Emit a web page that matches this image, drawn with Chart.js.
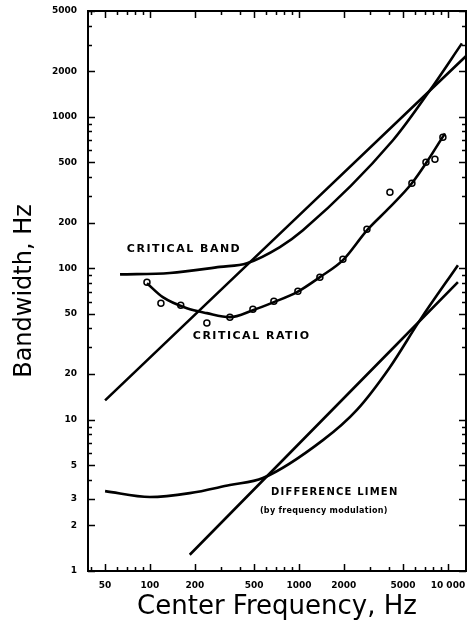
<!DOCTYPE html>
<html>
<head>
<meta charset="utf-8">
<script src="https://cdn.jsdelivr.net/npm/chart.js@4/dist/chart.umd.min.js"></script>
<style>
  body { margin: 0; background: #fff; }
</style>
</head>
<body>
<canvas id="chartBand" width="469" height="623"></canvas>
<script>
// axis ticks
const xTicks = [50, 100, 200, 500, 1000, 2000, 5000, 10000];
const xTickText = ['50', '100', '200', '500', '1000', '2000', '5000', '10 000'];
const yTicks = [1, 2, 3, 5, 10, 20, 50, 100, 200, 500, 1000, 2000, 5000];

// straight line through the critical band region
const upperLineF = [50, 13400];
const upperLineBw = [13.4, 2550];

// critical band
const bandF = [63, 136, 295, 448, 745, 1064, 4276, 7570, 12410];
const bandBw = [91, 93, 102, 108, 138, 178, 700, 1496, 3055];

// critical ratio, fitted curve and measured points
const ratioF = [95.5, 122, 177, 241, 344, 491, 679, 970, 1382, 1973, 2860, 4080, 5730, 7120, 9550];
const ratioBw = [79.6, 64.4, 54.4, 50.5, 47.5, 52.8, 59.7, 69.5, 87.3, 113, 178, 253, 364, 493, 778];
const ratioPtF = [95.5, 118.5, 161, 241, 344, 491, 679, 984, 1382, 1973, 2860, 4080, 5730, 7120, 8180, 9250];
const ratioPtBw = [80.9, 58.7, 57, 43.4, 47.5, 53.6, 60.6, 70.5, 87.3, 114.6, 180.8, 317, 364, 501, 525, 732];

// straight line through the difference limen region
const lowerLineF = [185, 11670];
const lowerLineBw = [1.28, 80.9];

// difference limen
const limenF = [50, 100, 185, 344, 573, 1449, 2450, 4080, 6490, 11670];
const limenBw = [3.37, 3.08, 3.27, 3.7, 4.11, 7.32, 11.6, 22.2, 45.4, 104.7];

function pairs(xs, ys) {
    return xs.map((x, i) => ({ x: x, y: ys[i] }));
}

function lineSet(xs, ys) {
    return {
        type: 'line',
        data: pairs(xs, ys),
        borderColor: '#000',
        borderWidth: 2.6,
        pointRadius: 0,
        fill: false,
        cubicInterpolationMode: 'monotone'
    };
}

const frameTicks = {
    id: 'frameTicks',
    afterDraw(chart) {
        const ctx = chart.ctx;
        const a = chart.chartArea;
        const xs = chart.scales.x, ys = chart.scales.y;
        ctx.save();
        ctx.strokeStyle = '#000';
        ctx.lineWidth = 2;
        ctx.strokeRect(a.left, a.top, a.right - a.left, a.bottom - a.top);
        ctx.lineWidth = 1.5;
        ctx.beginPath();
        for (let e = 1; e <= 4; e++) {
            for (let m = 1; m <= 9; m++) {
                const v = m * Math.pow(10, e);
                if (v < xs.min || v > xs.max) continue;
                const px = Math.round(xs.getPixelForValue(v)) + 0.5;
                const len = xTicks.includes(v) ? 7 : 4;
                ctx.moveTo(px, a.bottom); ctx.lineTo(px, a.bottom - len);
                ctx.moveTo(px, a.top); ctx.lineTo(px, a.top + len);
            }
        }
        for (let e = 0; e <= 3; e++) {
            for (let m = 1; m <= 9; m++) {
                const v = m * Math.pow(10, e);
                if (v < ys.min || v > ys.max) continue;
                const py = Math.round(ys.getPixelForValue(v)) + 0.5;
                const len = yTicks.includes(v) ? 7 : 4;
                ctx.moveTo(a.left, py); ctx.lineTo(a.left + len, py);
                ctx.moveTo(a.right, py); ctx.lineTo(a.right - len, py);
            }
        }
        ctx.stroke();
        ctx.restore();
    }
};

const notes = {
    id: 'notes',
    afterDatasetsDraw(chart) {
        const ctx = chart.ctx;
        const xs = chart.scales.x, ys = chart.scales.y;
        const put = (text, f, bw, size, spacing) => {
            ctx.font = 'bold ' + size + 'px "DejaVu Sans"';
            ctx.letterSpacing = spacing + 'px';
            ctx.fillText(text, xs.getPixelForValue(f), ys.getPixelForValue(bw));
        };
        ctx.save();
        ctx.fillStyle = '#000';
        ctx.textAlign = 'left';
        ctx.textBaseline = 'middle';
        put('CRITICAL BAND', 70, 133, 11, 1.5);
        put('CRITICAL RATIO', 194, 35.6, 11, 1.5);
        put('DIFFERENCE LIMEN', 649, 3.32, 10, 1.2);
        put('(by frequency modulation)', 547, 2.49, 8, 0.3);
        ctx.restore();
    }
};

const ctx = document.getElementById('chartBand').getContext('2d');
const chart = new Chart(ctx, {
    data: {
        datasets: [
            lineSet(upperLineF, upperLineBw),
            lineSet(bandF, bandBw),
            lineSet(ratioF, ratioBw),
            {
                type: 'scatter',
                data: pairs(ratioPtF, ratioPtBw),
                pointStyle: 'circle',
                pointRadius: 3,
                pointBorderWidth: 1.5,
                pointBorderColor: '#000',
                pointBackgroundColor: '#fff'
            },
            lineSet(lowerLineF, lowerLineBw),
            lineSet(limenF, limenBw)
        ]
    },
    options: {
        responsive: false,
        animation: false,
        layout: { autoPadding: false, padding: { top: 11, right: 3, left: 0, bottom: 0 } },
        plugins: { legend: { display: false }, tooltip: { enabled: false } },
        scales: {
            x: {
                type: 'logarithmic',
                position: 'bottom',
                min: 38.4,
                max: 13220,
                grid: { display: false },
                border: { display: false },
                afterBuildTicks: s => { s.ticks = xTicks.map(v => ({ value: v })); },
                afterFit: s => { s.height = 52; s.paddingLeft = 0; s.paddingRight = 0; },
                ticks: {
                    autoSkip: false,
                    maxRotation: 0,
                    padding: 1,
                    color: '#000',
                    font: { family: 'DejaVu Sans', size: 9, weight: 'bold' },
                    callback: v => xTickText[xTicks.indexOf(v)]
                },
                title: {
                    display: true,
                    text: 'Center Frequency, Hz',
                    color: '#000',
                    font: { family: 'DejaVu Sans', size: 26 },
                    padding: { top: 13, bottom: 0 }
                }
            },
            y: {
                type: 'logarithmic',
                min: 1,
                max: 5000,
                grid: { display: false },
                border: { display: false },
                afterBuildTicks: s => { s.ticks = yTicks.map(v => ({ value: v })); },
                afterFit: s => { s.width = 88; s.paddingTop = 0; s.paddingBottom = 0; },
                ticks: {
                    autoSkip: false,
                    padding: 3,
                    color: '#000',
                    font: { family: 'DejaVu Sans', size: 9, weight: 'bold' },
                    callback: v => String(v)
                },
                title: {
                    display: true,
                    text: 'Bandwidth, Hz',
                    color: '#000',
                    font: { family: 'DejaVu Sans', size: 24 },
                    padding: { top: 10, bottom: 0 }
                }
            }
        }
    },
    plugins: [frameTicks, notes]
});
</script>
</body>
</html>
